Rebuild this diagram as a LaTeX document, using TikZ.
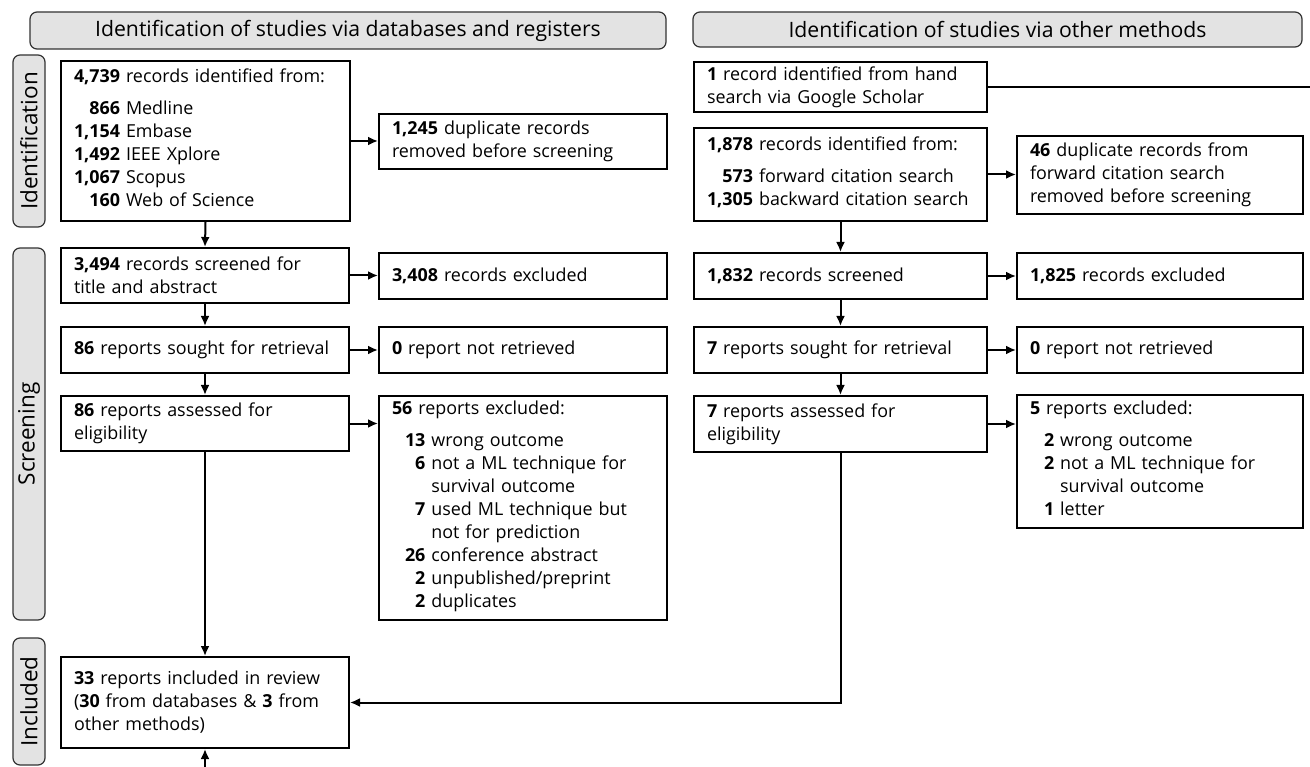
\documentclass[tikz,border=0pt]{standalone}
\usepackage{fontspec}
\setmainfont{Open Sans}
\usetikzlibrary{arrows.meta}
\newcommand\bxfont{\fontsize{17.9}{23}\selectfont}
\newcommand\hdfont{\fontsize{21.2}{23}\selectfont}
\newcommand\sdfont{\fontsize{22.5}{23}\selectfont}
\newcommand\nb[1]{\textbf{#1}}
\tikzset{
  bx/.style={draw, line width=2pt, inner xsep=13pt, inner ysep=0pt, align=left, font=\bxfont},
  hdr/.style={draw=black!80, line width=1.2pt, rounded corners=7pt, fill=black!11, font=\hdfont, inner sep=0pt},
  side/.style={hdr, rotate=90, font=\sdfont, minimum height=32pt},
  arr/.style={line width=2pt, -{Latex[length=10pt,width=9pt]}},
  ln/.style={line width=2pt}
}
\begin{document}
\begin{tikzpicture}[x=1pt,y=-1pt]
\useasboundingbox[fill=white] (0,0) rectangle (1310,767);
% headers
\node[hdr, minimum width=636pt, minimum height=37pt] (h1) at (348,30.5) {Identification of studies via databases and registers};
\node[hdr, minimum width=609pt, minimum height=35pt] (h2) at (997.5,29.5) {Identification of studies via other methods};
% side labels
\node[side, minimum width=172pt] (lid) at (29,141) {Identification};
\node[side, minimum width=372pt] (lscr) at (29,434) {Screening};
\node[side, minimum width=127pt] (linc) at (29,701.5) {Included};
% left column
\node[bx, minimum width=289pt, minimum height=160pt, text width=263pt] (A) at (205.5,141) {\nb{4,739} records identified from:\\[9pt]
\begin{tabular}[t]{@{}r@{\ }l@{}}
\nb{866} & Medline\\
\nb{1,154} & Embase\\
\nb{1,492} & IEEE Xplore\\
\nb{1,067} & Scopus\\
\nb{160} & Web of Science
\end{tabular}};
\node[bx, minimum width=288pt, minimum height=55pt, text width=262pt] (dup1) at (523,141.5) {\nb{1,245} duplicate records\\removed before screening};
\node[bx, minimum width=288pt, minimum height=55pt, text width=262pt] (scr1) at (205,275.5) {\nb{3,494} records screened for\\title and abstract};
\node[bx, minimum width=288pt, minimum height=46pt, text width=262pt] (exc1) at (523,276) {\nb{3,408} records excluded};
\node[bx, minimum width=288pt, minimum height=46pt, text width=262pt] (sou1) at (205,350) {\nb{86} reports sought for retrieval};
\node[bx, minimum width=288pt, minimum height=46pt, text width=262pt] (nr1) at (523,350) {\nb{0} report not retrieved};
\node[bx, minimum width=288pt, minimum height=55pt, text width=262pt] (ass1) at (205,423.5) {\nb{86} reports assessed for\\eligibility};
\node[bx, minimum width=288pt, minimum height=224pt, text width=262pt] (ex56) at (523,508) {\nb{56} reports excluded:\\[9pt]
\hspace*{13pt}\begin{tabular}[t]{@{}r@{\ }l@{}}
\nb{13} & wrong outcome\\
\nb{6} & not a ML technique for\\
 & survival outcome\\
\nb{7} & used ML technique but\\
 & not for prediction\\
\nb{26} & conference abstract\\
\nb{2} & unpublished/preprint\\
\nb{2} & duplicates
\end{tabular}};
\node[bx, minimum width=288pt, minimum height=91pt, text width=262pt] (inc) at (205,702.5) {\nb{33} reports included in review\\(\nb{30} from databases \& \nb{3} from\\other methods)};
% right column
\node[bx, minimum width=293pt, minimum height=50pt, text width=267pt] (hand) at (840.5,87) {\nb{1} record identified from hand\\search via Google Scholar};
\node[bx, minimum width=293pt, minimum height=93pt, text width=267pt] (B) at (840.5,174.5) {\nb{1,878} records identified from:\\[9pt]
\begin{tabular}[t]{@{}r@{\ }l@{}}
\nb{573} & forward citation search\\
\nb{1,305} & backward citation search
\end{tabular}};
\node[bx, minimum width=286pt, minimum height=78pt, text width=260pt] (dup2) at (1160,175) {\nb{46} duplicate records from\\forward citation search\\removed before screening};
\node[bx, minimum width=293pt, minimum height=46pt, text width=267pt] (scr2) at (840.5,276) {\nb{1,832} records screened};
\node[bx, minimum width=286pt, minimum height=46pt, text width=260pt] (exc2) at (1160,276) {\nb{1,825} records excluded};
\node[bx, minimum width=293pt, minimum height=46pt, text width=267pt] (sou2) at (840.5,350) {\nb{7} reports sought for retrieval};
\node[bx, minimum width=286pt, minimum height=46pt, text width=260pt] (nr2) at (1160,350) {\nb{0} report not retrieved};
\node[bx, minimum width=293pt, minimum height=56pt, text width=267pt] (ass2) at (840.5,424) {\nb{7} reports assessed for\\eligibility};
\node[bx, minimum width=286pt, minimum height=133pt, text width=260pt] (ex5) at (1160,461.5) {\nb{5} reports excluded:\\[9pt]
\hspace*{14pt}\begin{tabular}[t]{@{}r@{\ }l@{}}
\nb{2} & wrong outcome\\
\nb{2} & not a ML technique for\\
 & survival outcome\\
\nb{1} & letter
\end{tabular}};
\coordinate (redge) at (1310,87);
\coordinate (bot) at (205,767);
% connectors left
\draw[arr] (A.east) -- (A.east -| dup1.west);
\draw[arr] (A.south) -- (scr1.north);
\draw[arr] (scr1.east) -- (scr1.east -| exc1.west);
\draw[arr] (scr1.south) -- (sou1.north);
\draw[arr] (sou1.east) -- (nr1.west);
\draw[arr] (sou1.south) -- (ass1.north);
\draw[arr] (ass1.east) -- (ass1.east -| ex56.west);
\draw[arr] (ass1.south) -- (inc.north);
\draw[arr] (bot) -- (inc.south);
% connectors right
\draw[ln] (hand.east) -- (redge);
\draw[arr] (B.east) -- (B.east -| dup2.west);
\draw[arr] (B.south) -- (scr2.north);
\draw[arr] (scr2.east) -- (exc2.west);
\draw[arr] (scr2.south) -- (sou2.north);
\draw[arr] (sou2.east) -- (nr2.west);
\draw[arr] (sou2.south) -- (ass2.north);
\draw[arr] (ass2.east) -- (ass2.east -| ex5.west);
\draw[arr] (ass2.south) |- (inc.east);
\end{tikzpicture}
\end{document}
